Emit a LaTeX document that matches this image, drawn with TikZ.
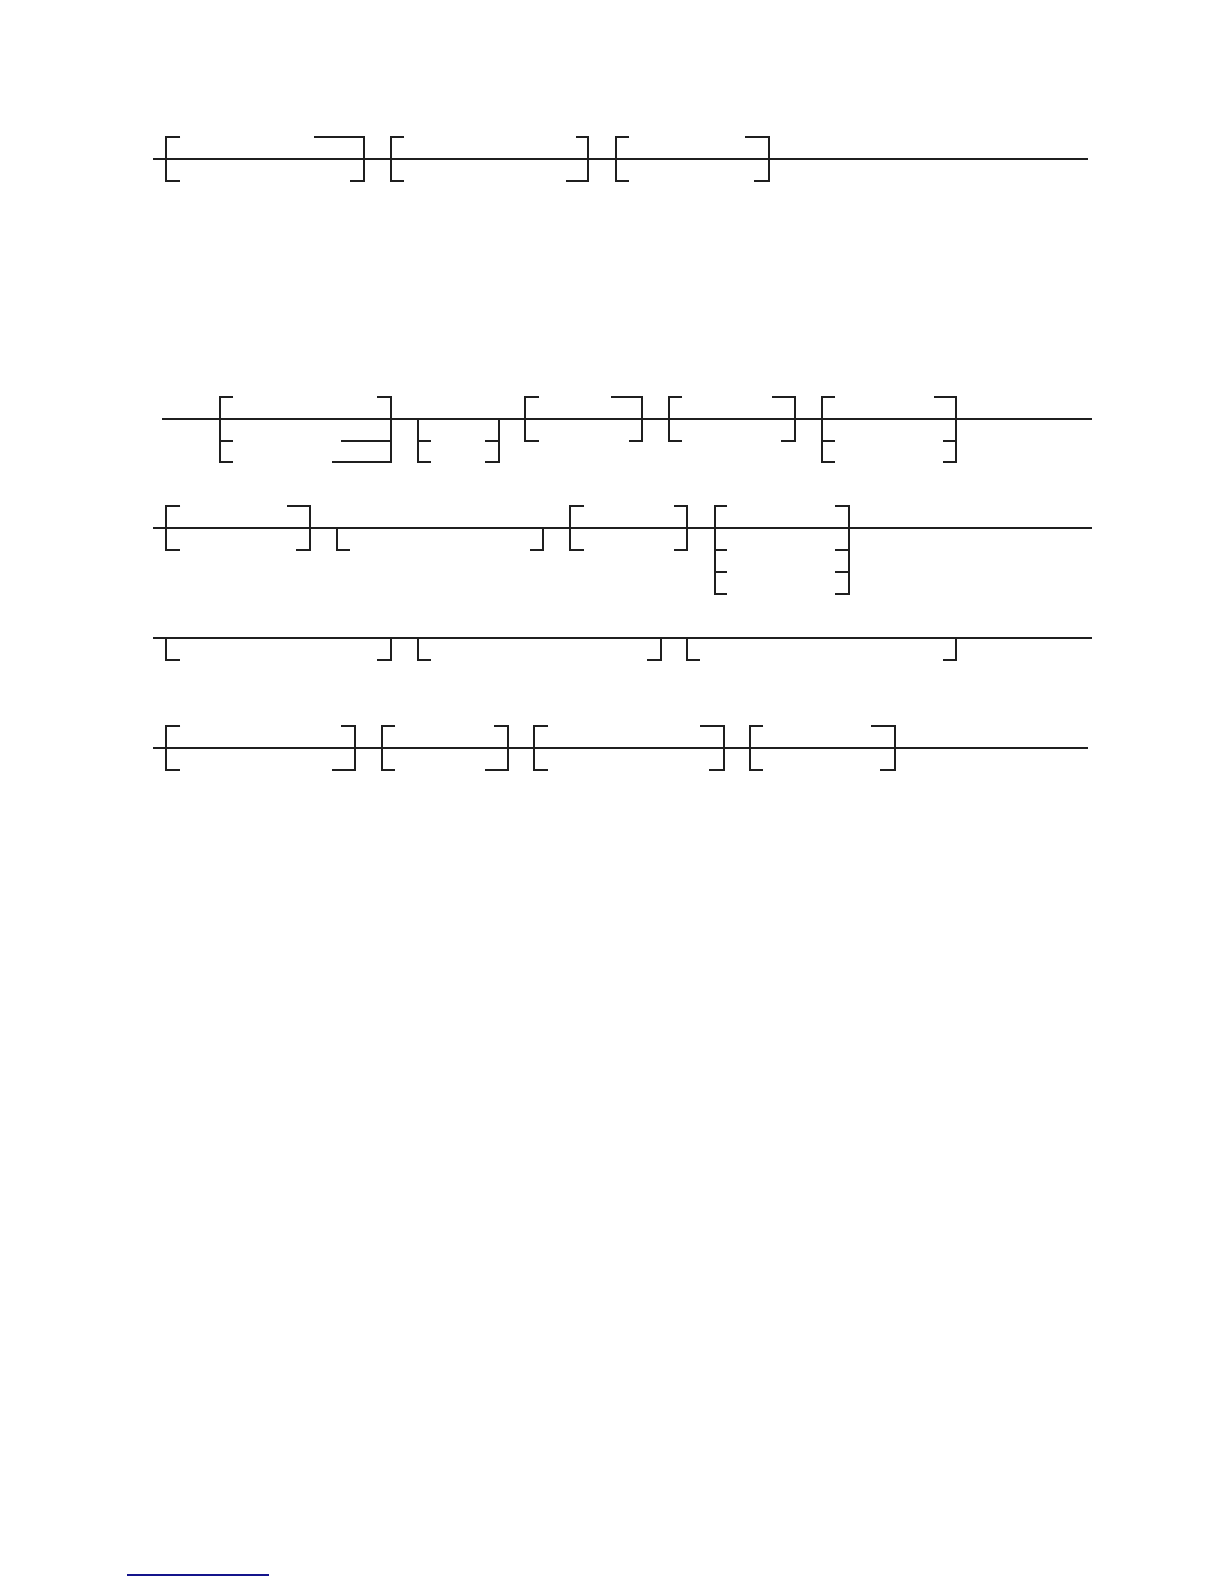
\documentclass[tikz,border=0pt]{standalone}
\begin{document}
\begin{tikzpicture}[x=1pt,y=-1pt,line width=1.1pt,line join=miter,
  rail/.style={draw=black!88},
  foot/.style={draw={rgb,255:red,20;green,20;blue,140},line width=1.2pt}]
\useasboundingbox (0,0) rectangle (1224,1584);
% ---------- Diagram 1 ----------
\draw[rail] (153,159) -- (1088,159);
\draw[rail] (180,137) -- (166,137) -- (166,181) -- (180,181);
\draw[rail] (314,137) -- (364,137) -- (364,181) -- (350,181);
\draw[rail] (404,137) -- (391,137) -- (391,181) -- (404,181);
\draw[rail] (576,137) -- (588,137) -- (588,181) -- (566,181);
\draw[rail] (629,137) -- (616,137) -- (616,181) -- (629,181);
\draw[rail] (745,137) -- (769,137) -- (769,181) -- (754,181);
% ---------- Diagram 2, row 1 ----------
\draw[rail] (162,419) -- (1092,419);
\draw[rail] (233,397) -- (220,397) -- (220,462) -- (233,462);
\draw[rail] (220,441) -- (233,441);
\draw[rail] (377,397) -- (391,397) -- (391,462) -- (332,462);
\draw[rail] (341,441) -- (391,441);
\draw[rail] (418,419) -- (418,462) -- (431,462);
\draw[rail] (418,441) -- (431,441);
\draw[rail] (499,419) -- (499,462) -- (485,462);
\draw[rail] (485,441) -- (499,441);
\draw[rail] (539,397) -- (525,397) -- (525,441) -- (539,441);
\draw[rail] (611,397) -- (642,397) -- (642,441) -- (629,441);
\draw[rail] (682,397) -- (669,397) -- (669,441) -- (682,441);
\draw[rail] (772,397) -- (795,397) -- (795,441) -- (781,441);
\draw[rail] (835,397) -- (822,397) -- (822,462) -- (835,462);
\draw[rail] (822,441) -- (835,441);
\draw[rail] (934,397) -- (956,397) -- (956,462) -- (943,462);
\draw[rail] (943,441) -- (956,441);
% ---------- Diagram 2, row 2 ----------
\draw[rail] (153,528) -- (1092,528);
\draw[rail] (180,506) -- (166,506) -- (166,550) -- (180,550);
\draw[rail] (287,506) -- (310,506) -- (310,550) -- (296,550);
\draw[rail] (337,528) -- (337,550) -- (350,550);
\draw[rail] (543,528) -- (543,550) -- (530,550);
\draw[rail] (584,506) -- (570,506) -- (570,550) -- (584,550);
\draw[rail] (674,506) -- (687,506) -- (687,550) -- (674,550);
\draw[rail] (727,506) -- (715,506) -- (715,594) -- (727,594);
\draw[rail] (715,550) -- (727,550);
\draw[rail] (715,572) -- (727,572);
\draw[rail] (835,506) -- (849,506) -- (849,594) -- (835,594);
\draw[rail] (835,550) -- (849,550);
\draw[rail] (835,572) -- (849,572);
% ---------- Diagram 2, row 3 ----------
\draw[rail] (153,638) -- (1092,638);
\draw[rail] (166,638) -- (166,660) -- (180,660);
\draw[rail] (391,638) -- (391,660) -- (377,660);
\draw[rail] (418,638) -- (418,660) -- (431,660);
\draw[rail] (661,638) -- (661,660) -- (647,660);
\draw[rail] (687,638) -- (687,660) -- (700,660);
\draw[rail] (956,638) -- (956,660) -- (943,660);
% ---------- Diagram 2, row 4 ----------
\draw[rail] (153,748) -- (1088,748);
\draw[rail] (180,726) -- (166,726) -- (166,770) -- (180,770);
\draw[rail] (341,726) -- (355,726) -- (355,770) -- (332,770);
\draw[rail] (395,726) -- (382,726) -- (382,770) -- (395,770);
\draw[rail] (494,726) -- (508,726) -- (508,770) -- (485,770);
\draw[rail] (548,726) -- (534,726) -- (534,770) -- (548,770);
\draw[rail] (700,726) -- (724,726) -- (724,770) -- (709,770);
\draw[rail] (763,726) -- (750,726) -- (750,770) -- (763,770);
\draw[rail] (871,726) -- (895,726) -- (895,770) -- (880,770);
% ---------- footnote rule ----------
\draw[foot] (127,1575) -- (269,1575);
\end{tikzpicture}
\end{document}
